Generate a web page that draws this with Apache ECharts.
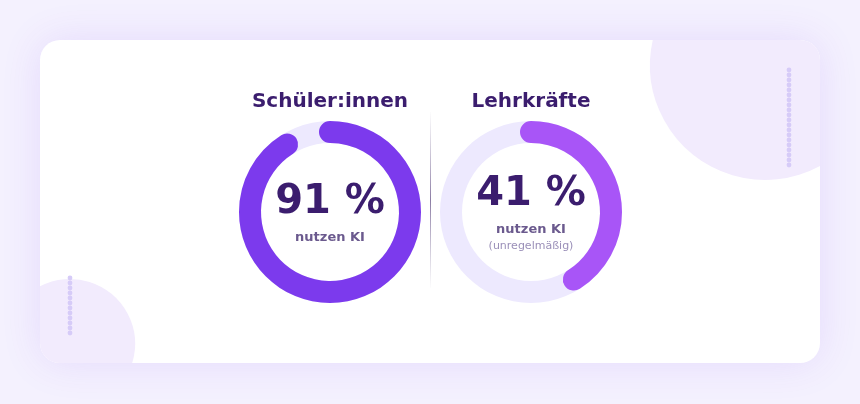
<!DOCTYPE html>
<html lang="de">
<head>
  <meta charset="UTF-8">
  <title>KI-Nutzung</title>
  <style>
    * { margin: 0; padding: 0; }
    body { background: #f4f1fe; overflow: hidden; }
    #chart { width: 860px; height: 404px; }
  </style>
</head>
<body>
  <div id="chart"></div>
  <script src="https://cdn.jsdelivr.net/npm/echarts@6/dist/echarts.min.js"></script>
  <script>
    // data
    const groups = ['Schüler:innen', 'Lehrkräfte'];
    const shares = [91, 41];
    const subLabels = ['nutzen KI', 'nutzen KI'];
    const notes = ['', '(unregelmäßig)'];

    const barColors = ['#7c3aed', '#a855f7'];
    const trackColor = '#ede9fe';
    const centers = [[330, 212], [531, 212]];
    const valueOffsets = [-9, -17];
    const labelOffsets = [26, 18];

    // corner blobs, already cut to the card outline
    echarts.graphic.registerShape('blobTR', echarts.graphic.extendPath(
      'M652.75 40 L800 40 A20 20 0 0 1 820 60 L820 166 A115 115 0 0 1 652.75 40 Z'));
    echarts.graphic.registerShape('blobBL', echarts.graphic.extendPath(
      'M40 286.3 A65 65 0 0 1 132.2 363 L60 363 A20 20 0 0 1 40 343 Z'));

    const chart = echarts.init(document.getElementById('chart'));

    // decorative dots
    const dots = [];
    for (let i = 0; i < 20; i++) {
      dots.push({ type: 'circle', shape: { cx: 789, cy: 70 + i * 5, r: 2.4 }, style: { fill: '#d6cbf8' }, z: 3 });
    }
    for (let i = 0; i < 12; i++) {
      dots.push({ type: 'circle', shape: { cx: 70, cy: 278 + i * 5, r: 2.4 }, style: { fill: '#d6cbf8' }, z: 3 });
    }

    const graphic = [
      {
        type: 'rect',
        shape: { x: 40, y: 40, width: 780, height: 323, r: 20 },
        style: { fill: '#fff', shadowBlur: 40, shadowColor: 'rgba(124,58,237,0.12)' },
        z: 1
      },
      { type: 'blobTR', style: { fill: '#f2ebfd' }, z: 2 },
      { type: 'blobBL', style: { fill: '#f2ebfd' }, z: 2 },
      {
        type: 'line',
        shape: { x1: 430.5, y1: 112, x2: 430.5, y2: 288 },
        style: {
          lineWidth: 1,
          stroke: new echarts.graphic.LinearGradient(0, 0, 0, 1, [
            { offset: 0, color: 'rgba(160,150,180,0)' },
            { offset: 0.5, color: 'rgba(140,125,165,1)' },
            { offset: 1, color: 'rgba(160,150,180,0)' }
          ])
        },
        z: 3
      },
      ...dots
    ];

    groups.forEach((g, i) => {
      graphic.push({
        type: 'text',
        x: centers[i][0], y: 102,
        style: { text: g, fill: '#3b1d6e', font: 'bold 20px "DejaVu Sans"', align: 'center', verticalAlign: 'middle' },
        z: 5
      });
      if (notes[i]) {
        graphic.push({
          type: 'text',
          x: centers[i][0], y: 246,
          style: { text: notes[i], fill: '#9a8fb8', font: '11px "DejaVu Sans"', align: 'center', verticalAlign: 'middle' },
          z: 5
        });
      }
    });

    const series = shares.map((v, i) => ({
      type: 'gauge',
      center: centers[i],
      radius: 91,
      startAngle: 90,
      endAngle: -270,
      min: 0,
      max: 100,
      z: 4,
      axisLine: { lineStyle: { width: 22, color: [[1, trackColor]] } },
      progress: { show: true, width: 22, roundCap: true, itemStyle: { color: barColors[i] } },
      pointer: { show: false },
      anchor: { show: false },
      axisTick: { show: false },
      splitLine: { show: false },
      axisLabel: { show: false },
      title: {
        offsetCenter: [0, labelOffsets[i]],
        fontSize: 13,
        fontWeight: 'bold',
        fontFamily: 'DejaVu Sans',
        color: '#6b5a8e'
      },
      detail: {
        offsetCenter: [0, valueOffsets[i]],
        formatter: '{value} %',
        fontSize: 40,
        fontWeight: 'bold',
        fontFamily: 'DejaVu Sans',
        color: '#3b1d6e'
      },
      data: [{ value: v, name: subLabels[i] }]
    }));

    chart.setOption({
      animation: false,
      backgroundColor: '#f4f1fe',
      graphic: graphic,
      series: series
    });
  </script>
</body>
</html>
